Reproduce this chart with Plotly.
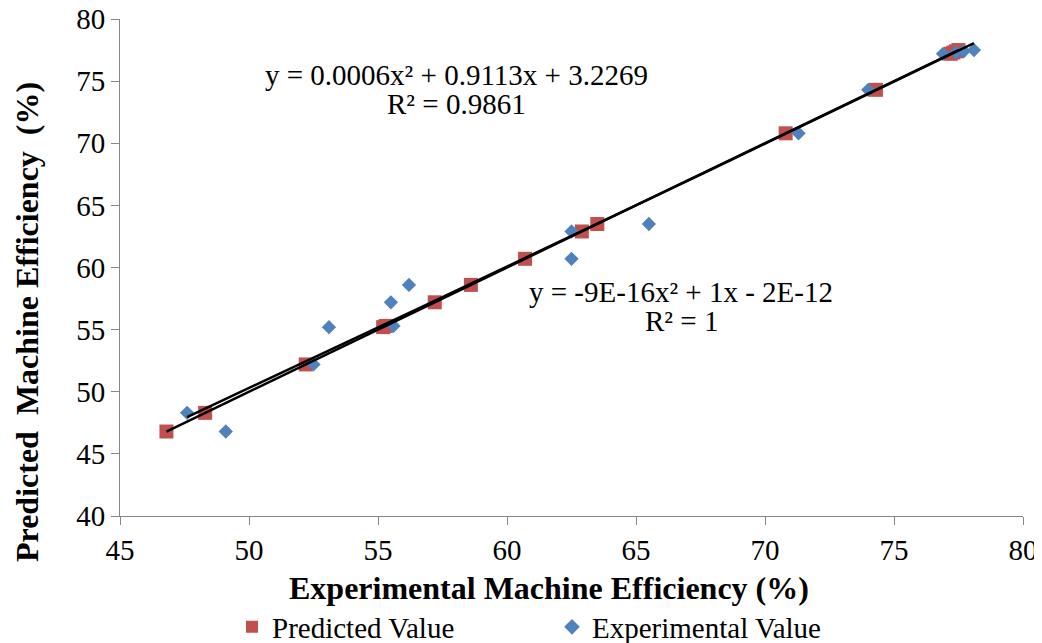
import numpy as np
import plotly.graph_objects as go

# Data
predicted = [46.8, 48.3, 52.2, 55.2, 55.3, 57.2, 58.6, 60.7, 62.9, 63.5, 70.8, 74.3, 77.2, 77.3, 77.4, 77.5]
experimental = [49.1, 47.6, 52.5, 53.1, 55.6, 55.5, 56.2, 62.5, 62.5, 65.5, 71.3, 74.0, 76.9, 77.4, 77.7, 78.1]

# Trendline coefficients as printed on the chart
exp_coef = [0.0006, 0.9113, 3.2269]
pred_coef = [-9e-16, 1.0, -2e-12]
eq_exp = ["y = 0.0006x² + 0.9113x + 3.2269", "R² = 0.9861"]
eq_pred = ["y = -9E-16x² + 1x - 2E-12", "R² = 1"]

RED = "#C0504D"
BLUE = "#4F81BD"
FONT = "Liberation Serif"

fig = go.Figure()

fig.add_trace(go.Scatter(
    x=predicted, y=predicted, mode="markers", name="Predicted Value",
    marker=dict(symbol="square", size=14, color=RED),
))
fig.add_trace(go.Scatter(
    x=experimental, y=predicted, mode="markers", name="Experimental Value",
    marker=dict(symbol="diamond", size=11, color=BLUE),
))

# Trendlines
xp = np.linspace(min(predicted), max(predicted), 100)
fig.add_trace(go.Scatter(x=xp, y=np.polyval(pred_coef, xp), mode="lines",
                         line=dict(color="black", width=2.5), showlegend=False, hoverinfo="skip"))
xe = np.linspace(min(experimental), max(experimental), 100)
fig.add_trace(go.Scatter(x=xe, y=np.polyval(exp_coef, xe), mode="lines",
                         line=dict(color="black", width=2.5), showlegend=False, hoverinfo="skip"))

axis_common = dict(
    showgrid=False, zeroline=False, showline=True, linecolor="#868686", linewidth=1,
    ticks="outside", ticklen=8, tickcolor="#868686", dtick=5, automargin=False,
    ticklabeloverflow="allow",
    tickfont=dict(family=FONT, size=29, color="black"),
)
fig.update_xaxes(range=[45, 80], tick0=45, **axis_common)
fig.update_yaxes(range=[40, 80], tick0=40, **axis_common)

eq_font = dict(family=FONT, size=29, color="black")
fig.add_annotation(x=58.06, y=75.49, xref="x", yref="y", text=eq_exp[0], showarrow=False, font=eq_font)
fig.add_annotation(x=58.06, y=73.16, xref="x", yref="y", text=eq_exp[1], showarrow=False, font=eq_font)
fig.add_annotation(x=66.76, y=58.03, xref="x", yref="y", text=eq_pred[0], showarrow=False, font=eq_font)
fig.add_annotation(x=66.76, y=55.69, xref="x", yref="y", text=eq_pred[1], showarrow=False, font=eq_font)

# Axis titles
fig.add_annotation(x=(549 - 120) / 903, y=(516 - 588) / 497, xref="paper", yref="paper",
                   text="<b>Experimental Machine Efficiency (%)</b>", showarrow=False,
                   font=dict(family=FONT, size=32, color="black"), xanchor="center", yanchor="middle")
fig.add_annotation(x=(27 - 120) / 903, y=(516 - 322) / 497, xref="paper", yref="paper",
                   text="<b>Predicted\u00a0\u00a0Machine Efficiency\u00a0\u00a0(%)</b>", showarrow=False,
                   textangle=-90,
                   font=dict(family=FONT, size=32, color="black"), xanchor="center", yanchor="middle")

# Page body has an 8px margin: size the figure so the plot area lands where the reference has it
fig.update_layout(
    width=1034, height=635,
    margin=dict(l=112, r=19, t=11, b=127, autoexpand=False),
    paper_bgcolor="white", plot_bgcolor="white",
    showlegend=True,
    legend=dict(orientation="h", x=(232 - 120) / 903, xanchor="left",
                y=(516 - 627) / 497, yanchor="middle",
                entrywidth=275, entrywidthmode="pixels",
                font=dict(family=FONT, size=29, color="black"),
                itemsizing="constant", bgcolor="rgba(0,0,0,0)"),
)

fig.write_html("out.html")
